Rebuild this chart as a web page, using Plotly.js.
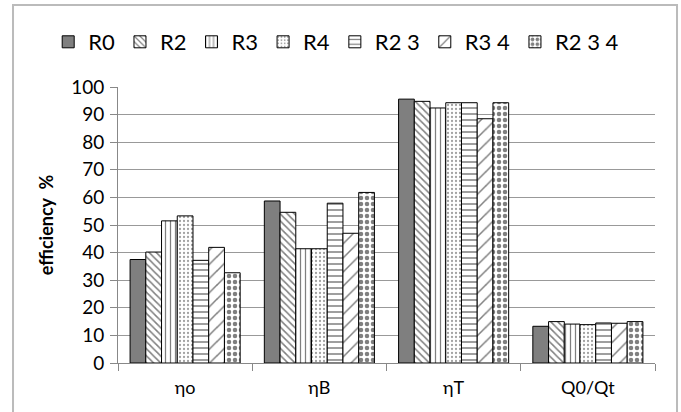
<!DOCTYPE html>
<html><head><meta charset="utf-8">
<script src="https://cdn.plot.ly/plotly-3.0.1.min.js"></script>
<style>body{margin:0;background:#fff}#c{width:681px;height:412px}</style>
</head><body><div id="c"></div>
<script>
const categories = ["ηo", "ηB", "ηT", "Q0/Qt"];
const seriesNames = ["R0", "R2", "R3", "R4", "R2 3", "R3 4", "R2 3 4"];
const R0   = [37.5, 58.7, 95.6, 13.3];
const R2   = [40.2, 54.6, 94.8, 15.0];
const R3   = [51.5, 41.4, 92.4, 14.1];
const R4   = [53.3, 41.4, 94.3, 13.9];
const R23  = [37.2, 57.9, 94.3, 14.5];
const R34  = [41.9, 47.0, 88.5, 14.4];
const R234 = [32.7, 61.8, 94.3, 15.0];
const seriesValues = [R0, R2, R3, R4, R23, R34, R234];
const yTicks = [0,10,20,30,40,50,60,70,80,90,100];

const patterns = [
  {shape:"", fg:"#000", bg:"#7f7f7f"},
  {shape:"\\", fg:"#000", bg:"#fff", size:5, solidity:0.3},
  {shape:"|", fg:"#000", bg:"#fff", size:5, solidity:0.25},
  {shape:".", fg:"#444", bg:"#fff", size:4, solidity:0.25},
  {shape:"-", fg:"#000", bg:"#fff", size:6, solidity:0.25},
  {shape:"/", fg:"#000", bg:"#fff", size:10, solidity:0.15},
  {shape:".", fg:"#000", bg:"#fff", size:6, solidity:0.45}
];

const traces = seriesNames.map((n,i)=>({
  type:"bar", name:n, x:categories, y:seriesValues[i],
  marker:{
    color: patterns[i].bg,
    line:{color:"#000", width:1},
    pattern: patterns[i].shape ? {shape:patterns[i].shape, fgcolor:patterns[i].fg, bgcolor:patterns[i].bg, size:patterns[i].size, solidity:patterns[i].solidity, fillmode:"overlay"} : undefined
  }
}));

const layout = {
  width:681, height:412,
  paper_bgcolor:"#fff", plot_bgcolor:"#fff",
  margin:{l:118, r:26, t:87, b:49},
  font:{family:"Lato, 'Open Sans', sans-serif", color:"#000"},
  barmode:"group", bargap:0.18, bargroupgap:0,
  showlegend:true,
  legend:{orientation:"h", x:-0.13, xanchor:"left", y:1.163, yanchor:"middle",
          font:{size:22}, itemwidth:30, traceorder:"normal"},
  xaxis:{type:"category", tickson:"boundaries", ticks:"outside", ticklen:7, tickcolor:"#888",
         showline:true, linecolor:"#888", linewidth:1, showgrid:false,
         tickfont:{size:18}, ticklabelstandoff:8},
  yaxis:{range:[0,100], tickvals:yTicks, ticktext:yTicks.map(String), ticks:"outside", ticklen:7, tickcolor:"#888",
         showline:true, linecolor:"#888", gridcolor:"#999", gridwidth:1, zeroline:false,
         tickfont:{size:19}, ticklabelstandoff:2,
         title:{text:"<b>efficiency&nbsp;&nbsp;%</b>", font:{size:18}, standoff:12}},
  shapes:[{type:"rect", xref:"paper", yref:"paper", x0:-0.1955, x1:1.041, y0:-0.25, y1:1.297,
           line:{color:"#bbb", width:2}, fillcolor:"rgba(0,0,0,0)"}]
};
Plotly.newPlot("c", traces, layout, {displayModeBar:false, staticPlot:true});
</script></body></html>
